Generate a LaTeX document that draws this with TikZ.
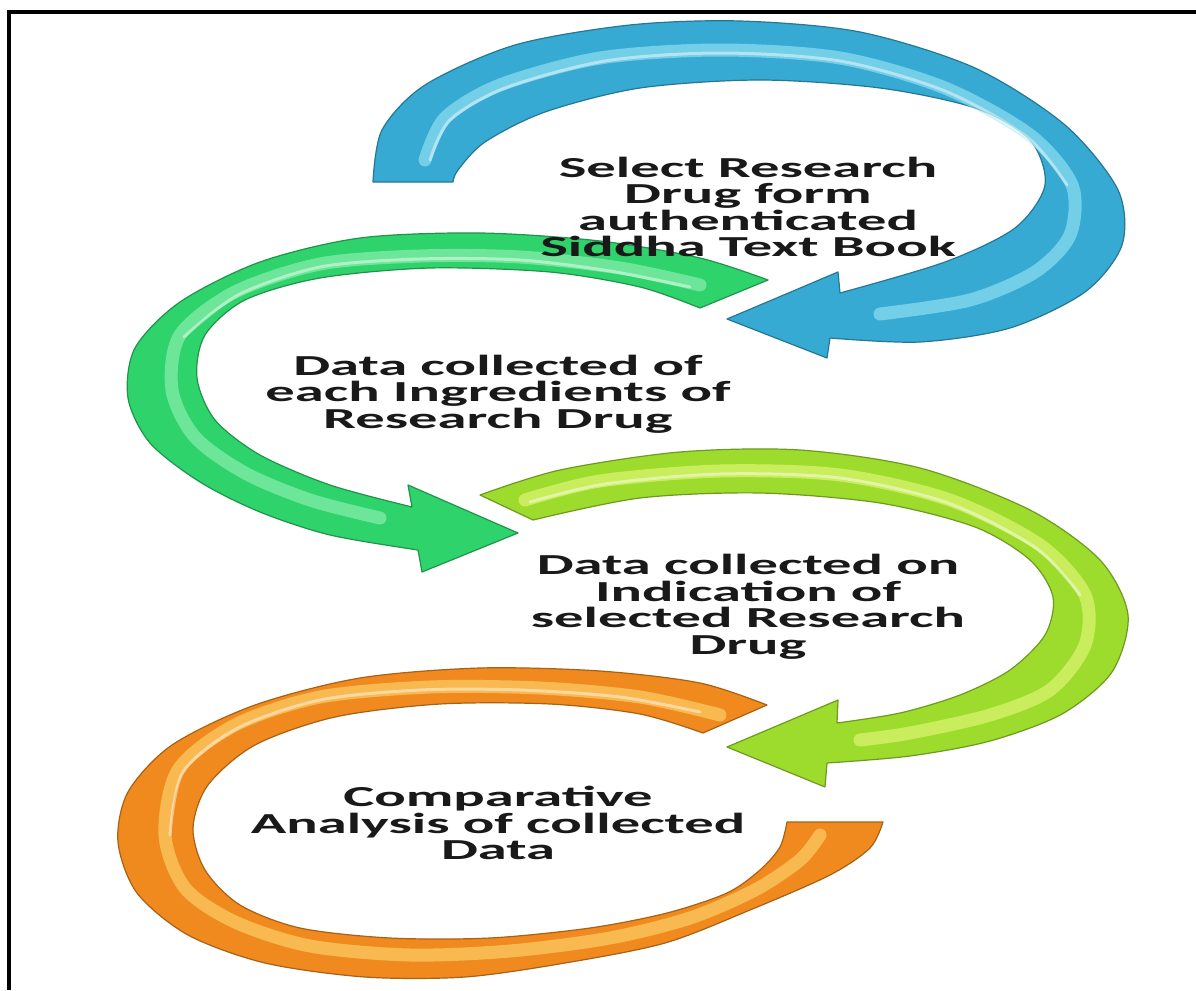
\documentclass[tikz,border=0pt]{standalone}
\usepackage{fontspec}
\setmainfont{Carlito}
\definecolor{stepblue}{HTML}{36AAD3}
\definecolor{stepbluelight}{HTML}{A6ECF8}
\definecolor{stepgreen}{HTML}{2ED36B}
\definecolor{stepgreenlight}{HTML}{A4F7C0}
\definecolor{steplime}{HTML}{9DDC2C}
\definecolor{steplimelight}{HTML}{EEFB86}
\definecolor{steporange}{HTML}{F08A1E}
\definecolor{steporangelight}{HTML}{FFE07C}
\tikzset{
  arrowband/.style={draw=#1!70!black, line width=1.2pt, fill=#1, line join=round},
  shine/.style={draw=#1, line width=13pt, line cap=round, opacity=.55},
  gleam/.style={draw=white, line width=3pt, line cap=round, opacity=.45},
  steptext/.style={align=center, inner sep=0pt, xscale=2.02, text=black!90,
    font=\fontsize{29}{26.5}\selectfont\bfseries}
}
\begin{document}
\begin{tikzpicture}[x=1pt,y=-1pt]
  \useasboundingbox (0,0) rectangle (1196,990);
  \fill[white] (0,0) rectangle (1196,990);
  \draw[line width=4pt] (9,990) -- (9,12) -- (1196,12);

  % first arrow
  \filldraw[arrowband=stepblue] plot[smooth] coordinates {(373,182) (382,130) (425,85) (515,45) (630,25) (740,21) (860,32) (975,68) (1065,125) (1118,190) (1122,245) (1085,292) (1010,328) (920,342) (830,338)}
    -- (827,358) -- (727,319) -- (838,272)
    -- plot[smooth] coordinates {(840,293) (945,262) (1015,228) (1045,185) (1030,140) (975,108) (880,88) (760,80) (640,88) (545,112) (485,142) (458,170) (453,182)} -- cycle;
  \draw[shine=stepbluelight] plot[smooth] coordinates {(425,160) (445,118) (500,85) (600,58) (720,50) (840,58) (945,88) (1030,135) (1072,185) (1070,235) (1035,272) (970,300) (880,314)};
  \draw[gleam] plot[smooth] coordinates {(430,160) (450,120) (505,88) (605,61) (720,53) (840,61) (945,91) (1027,137) (1067,185)};

  % second arrow
  \filldraw[arrowband=stepgreen] plot[smooth] coordinates {(768,280) (700,258) (600,241) (480,233) (360,238) (260,262) (180,302) (135,348) (128,398) (150,443) (200,482) (260,512) (330,535) (418,550)}
    -- (422,572) -- (518,533) -- (408,485)
    -- plot[smooth] coordinates {(412,507) (330,485) (260,455) (215,420) (197,378) (205,335) (245,300) (320,278) (430,268) (550,272) (640,287) (700,308)} -- cycle;
  \draw[shine=stepgreenlight] plot[smooth] coordinates {(700,285) (620,268) (520,257) (420,256) (320,264) (235,292) (180,335) (172,390) (195,437) (245,473) (310,500) (380,518)};
  \draw[gleam] plot[smooth] coordinates {(690,287) (610,271) (520,260) (420,259) (320,267) (238,295) (184,337)};

  % third arrow
  \filldraw[arrowband=steplime] plot[smooth] coordinates {(480,495) (560,470) (680,452) (800,450) (920,468) (1030,510) (1100,560) (1128,615) (1112,672) (1062,714) (990,741) (910,756) (827,763)}
    -- (825,787) -- (727,747) -- (838,700)
    -- plot[smooth] coordinates {(837,723) (900,713) (960,695) (1010,670) (1045,635) (1053,597) (1030,560) (975,527) (880,503) (760,493) (640,498) (533,520)} -- cycle;
  \draw[shine=steplimelight] plot[smooth] coordinates {(525,500) (600,481) (720,471) (840,475) (950,500) (1040,545) (1085,595) (1085,645) (1050,690) (990,715) (910,733) (860,740)};
  \draw[gleam] plot[smooth] coordinates {(530,502) (605,484) (720,474) (840,478) (948,503) (1036,548) (1080,595)};

  % fourth arrow
  \filldraw[arrowband=steporange] plot[smooth] coordinates {(767,705) (700,683) (600,671) (480,668) (360,678) (255,705) (172,745) (128,792) (118,842) (137,893) (188,935) (265,963) (365,977) (465,977) (565,963) (665,943) (750,910) (830,875) (870,848) (883,822)}
    -- (787,822)
    -- plot[smooth] coordinates {(787,822) (780,847) (760,870) (727,893) (667,913) (590,928) (490,938) (390,938) (300,928) (240,905) (205,870) (193,828) (208,785) (255,745) (335,717) (440,704) (550,704) (640,714) (703,733)} -- cycle;
  \draw[shine=steporangelight] plot[smooth] coordinates {(720,715) (640,697) (540,688) (430,687) (320,697) (235,725) (178,770) (165,835) (185,888) (235,922) (310,946) (410,955) (510,951) (610,938) (690,918) (755,890) (800,860) (820,835)};
  \draw[gleam] plot[smooth] coordinates {(700,712) (620,697) (520,690) (420,690) (320,700) (238,728) (183,772) (170,835)};

  % labels
  \node[steptext] (select) at (748,207) {Select Research\\Drug form\\authenticated\\Siddha Text Book};
  \node[steptext] (ingredients) at (498,394) {Data collected of\\each Ingredients of\\Research Drug};
  \node[steptext] (indication) at (748,607) {Data collected on\\Indication of\\selected Research\\Drug};
  \node[steptext] (compare) at (498,823) {Comparative\\Analysis of collected\\Data};
\end{tikzpicture}
\end{document}
